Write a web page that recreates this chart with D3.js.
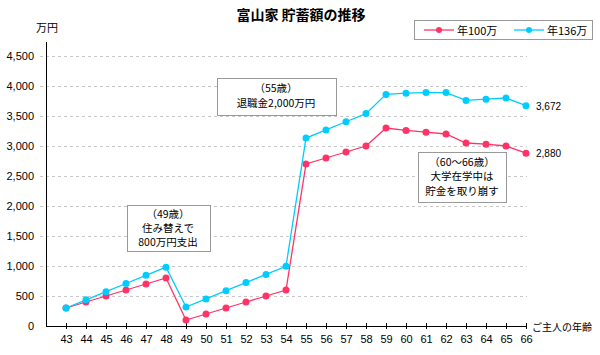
<!DOCTYPE html>
<html><head><meta charset="utf-8">
<script src="https://cdn.jsdelivr.net/npm/d3@7"></script>
<style>
body{margin:0;background:#fff;}
text{font-family:"Noto Sans CJK JP","Noto Sans",sans-serif;}
</style></head><body>
<svg id="c" width="600" height="355"></svg>
<script>
const ages = [43,44,45,46,47,48,49,50,51,52,53,54,55,56,57,58,59,60,61,62,63,64,65,66];
const s100 = [300,400,500,600,700,800,100,200,300,400,500,600,2700,2800,2900,3000,3300,3260,3230,3200,3050,3030,3000,2880];
const s136 = [300,436,572,708,844,980,316,452,588,724,860,996,3132,3268,3404,3540,3860,3880,3890,3890,3760,3780,3800,3672];
const seriesNames = ["年100万","年136万"];
const yTicks = [0,500,1000,1500,2000,2500,3000,3500,4000,4500];
const notes = [
  {lines:["（49歳）","住み替えで","800万円支出"]},
  {lines:["（55歳）","退職金2,000万円"]},
  {lines:["（60～66歳）","大学在学中は","貯金を取り崩す"]}
];
const colors = ["#ff3366","#00ccff"];

const svg = d3.select("#c");
const x = d3.scaleLinear().domain([42,66]).range([46,526]);
const y = d3.scaleLinear().domain([0,4500]).range([326,56]);

// title
svg.append("text").attr("x",301).attr("y",20).attr("text-anchor","middle")
  .attr("font-size",14).attr("font-weight","bold").text("富山家 貯蓄額の推移");
svg.append("text").attr("x",36).attr("y",32).attr("font-size",11).text("万円");

// grid
const yAxis = d3.axisLeft(y).tickValues(yTicks).tickSize(0).tickPadding(12).tickFormat(d3.format(","));
const gy = svg.append("g").attr("transform","translate(46,0)").call(yAxis);
gy.select(".domain").remove();
gy.selectAll("text").attr("font-size",11).attr("fill","#000").style("font-family","Arial,'Liberation Sans',sans-serif");
svg.append("g").selectAll("line").data(yTicks.filter(d=>d>0)).join("line")
  .attr("x1",40).attr("x2",527).attr("y1",d=>y(d)+0.5).attr("y2",d=>y(d)+0.5)
  .attr("stroke","#c8c8c8").attr("stroke-dasharray","3,3");
svg.append("line").attr("x1",46.5).attr("x2",46.5).attr("y1",42).attr("y2",326).attr("stroke","#000");

// x axis
const xAxis = d3.axisBottom(x).tickValues(ages).tickSize(3).tickSizeOuter(0).tickPadding(10);
const gx = svg.append("g").attr("transform","translate(0,326)").call(xAxis);
gx.select(".domain").attr("d","M46,0.5H526").attr("stroke","#000");
gx.selectAll(".tick line").attr("y1",-3).attr("y2",3).attr("stroke","#000");
gx.selectAll("text").attr("font-size",11).attr("fill","#000").attr("dy","0.4em").style("font-family","Arial,'Liberation Sans',sans-serif");
svg.append("text").attr("x",532).attr("y",331).attr("font-size",10).text("ご主人の年齢");

// lines
const line = d3.line().x((d,i)=>x(ages[i])).y(d=>y(d));
[s100,s136].forEach((s,k)=>{
  svg.append("path").datum(s).attr("d",line).attr("fill","none").attr("stroke",colors[k]).attr("stroke-width",1.3);
  svg.append("g").selectAll("circle").data(s).join("circle")
    .attr("cx",(d,i)=>x(ages[i])).attr("cy",d=>y(d)).attr("r",3.5).attr("fill",colors[k]);
});
// end labels
svg.append("text").attr("x",536).attr("y",y(s136[s136.length-1])+4).attr("font-size",10)
  .style("font-family","Arial,'Liberation Sans',sans-serif").text(d3.format(",")(s136[s136.length-1]));
svg.append("text").attr("x",536).attr("y",y(s100[s100.length-1])+4).attr("font-size",10)
  .style("font-family","Arial,'Liberation Sans',sans-serif").text(d3.format(",")(s100[s100.length-1]));

// legend
const lg = svg.append("g");
lg.append("rect").attr("x",414.5).attr("y",20.5).attr("width",178).attr("height",19).attr("fill","#fff").attr("stroke","#999");
seriesNames.forEach((n,k)=>{
  const x0 = 424 + k*90;
  lg.append("line").attr("x1",x0).attr("x2",x0+30).attr("y1",30).attr("y2",30).attr("stroke",colors[k]).attr("stroke-width",1.3);
  lg.append("circle").attr("cx",x0+15).attr("cy",30).attr("r",3).attr("fill",colors[k]);
  lg.append("text").attr("x",x0+33).attr("y",34.5).attr("font-size",11).text(n);
});

// notes
const boxes = [
  {x:127,y:205,w:83,h:46,cx:168,ly:[218,232,246]},
  {x:217,y:78,w:119,h:37,cx:276,ly:[92,107]},
  {x:418,y:152,w:88,h:50,cx:462,ly:[166,180,195]}
];
notes.forEach((n,i)=>{
  const b = boxes[i];
  svg.append("rect").attr("x",b.x+0.5).attr("y",b.y+0.5).attr("width",b.w).attr("height",b.h)
    .attr("fill","#fff").attr("stroke","#999");
  n.lines.forEach((t,j)=>{
    svg.append("text").attr("x",b.cx).attr("y",b.ly[j]).attr("text-anchor","middle").attr("font-size",10.5).text(t);
  });
});
</script></body></html>
